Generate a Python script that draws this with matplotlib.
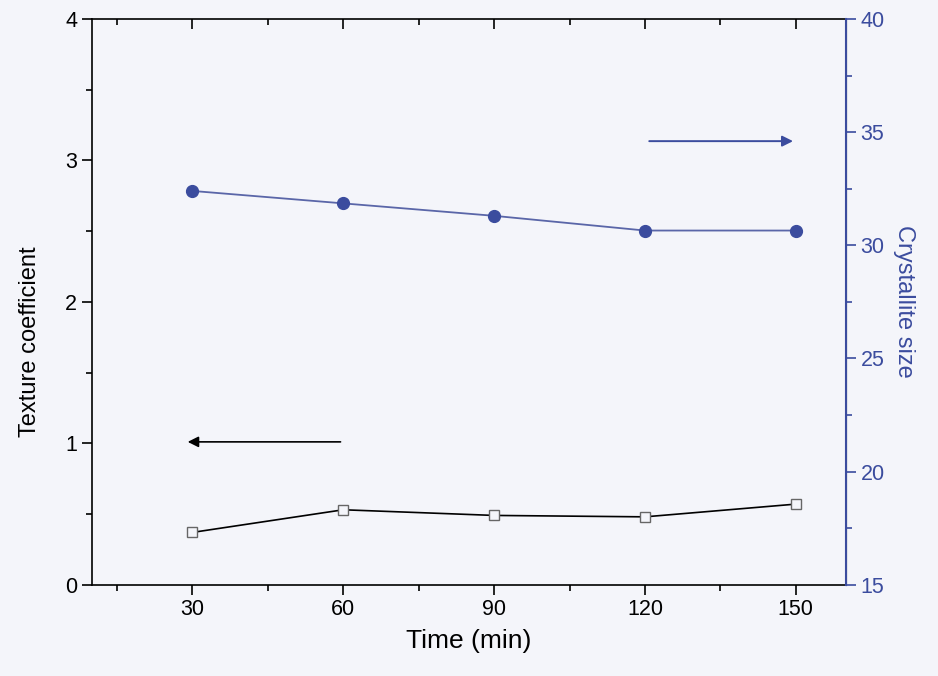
import numpy as np
import matplotlib
matplotlib.use('Agg')
import matplotlib.pyplot as plt
from matplotlib.ticker import MultipleLocator

plt.rcParams['font.family'] = ['Liberation Sans', 'DejaVu Sans']

# data
time_min = [30, 60, 90, 120, 150]
texture_coef = [0.37, 0.53, 0.49, 0.48, 0.57]
crystallite_size = [32.4, 31.85, 31.3, 30.65, 30.65]

blue = '#3b4c9e'
bg = '#f4f5fa'

fig = plt.figure(figsize=(9.38, 6.76), dpi=100, facecolor=bg)
ax = fig.add_axes([0.098, 0.135, 0.804, 0.837])
ax.set_facecolor(bg)
ax2 = ax.twinx()

# texture coefficient (left axis)
ax.plot(time_min, texture_coef, color='black', lw=1.2, marker='s', ms=7.5,
        mfc=bg, mec='#666666', mew=1.0, zorder=3)
ax.set_xlim(10, 160)
ax.set_ylim(0, 4)
ax.set_xticks(time_min)
ax.xaxis.set_minor_locator(MultipleLocator(15))
ax.yaxis.set_major_locator(MultipleLocator(1))
ax.yaxis.set_minor_locator(MultipleLocator(0.5))
ax.set_xlabel('Time (min)', fontsize=19, labelpad=6)
ax.set_ylabel('Texture coefficient', fontsize=17)
ax.yaxis.set_label_coords(-0.068, 0.43)
ax.tick_params(axis='both', which='major', direction='out', length=7, width=1.2,
               labelsize=15.5, top=True)
ax.tick_params(axis='both', which='minor', direction='out', length=4, width=1.2, top=True)
ax.tick_params(axis='x', which='both', labeltop=False)
for t in ax.xaxis.get_major_ticks() + ax.xaxis.get_minor_ticks():
    t.tick2line.set_marker(3)  # top ticks pointing inward
for sp in ['left', 'bottom', 'top']:
    ax.spines[sp].set_linewidth(1.2)

# crystallite size (right axis)
ax2.plot(time_min, crystallite_size, color='#5a66a8', lw=1.3, marker='o', ms=8.5,
         mfc=blue, mec=blue, zorder=3)
ax2.set_ylim(15, 40)
ax2.yaxis.set_major_locator(MultipleLocator(5))
ax2.yaxis.set_minor_locator(MultipleLocator(2.5))
ax2.set_ylabel('Crystallite size', fontsize=17, color=blue, rotation=270, labelpad=22)
ax2.tick_params(axis='y', which='major', direction='out', length=7, width=1.2,
                labelsize=15.5, colors=blue)
ax2.tick_params(axis='y', which='minor', direction='out', length=4, width=1.2, colors=blue)
ax2.spines['right'].set_color(blue)
ax2.spines['right'].set_linewidth(1.5)
ax2.spines['left'].set_visible(False)
ax2.spines['top'].set_visible(False)
ax2.spines['bottom'].set_visible(False)

# arrows pointing to each axis
ax.annotate('', xy=(28.5, 1.01), xytext=(60, 1.01),
            arrowprops=dict(arrowstyle='-|>', color='black', lw=1.2, mutation_scale=16))
ax2.annotate('', xy=(150, 34.6), xytext=(120.3, 34.6),
             arrowprops=dict(arrowstyle='-|>', color=blue, lw=1.4, mutation_scale=16))

fig.savefig('out.png', dpi=100, facecolor=bg)
